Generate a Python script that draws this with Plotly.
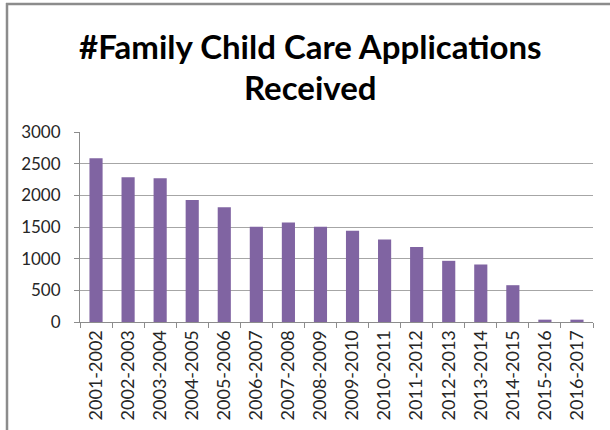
import plotly.graph_objects as go

categories = ["2001-2002", "2002-2003", "2003-2004", "2004-2005", "2005-2006",
              "2006-2007", "2007-2008", "2008-2009", "2009-2010", "2010-2011",
              "2011-2012", "2012-2013", "2013-2014", "2014-2015", "2015-2016",
              "2016-2017"]
applications = [2587, 2286, 2270, 1927, 1811, 1505, 1573, 1505, 1441, 1304,
                1183, 966, 908, 581, 37, 37]
y_ticks = [0, 500, 1000, 1500, 2000, 2500, 3000]
title_lines = ["#Family Child Care Applications", "Received"]

W, H = 610, 430
L, R, T, B = 80, 17, 132, 108
pw, ph = W - L - R, H - T - B

def px(x):
    return (x - L) / pw

def py(y):
    return (H - B - y) / ph

fig = go.Figure()
fig.add_trace(go.Bar(x=categories, y=applications, marker_color="#8064A2",
                     marker_line_width=0, width=0.41))

font_family = "Lato, 'Open Sans', sans-serif"
fig.update_layout(
    width=W, height=H,
    margin=dict(l=L, r=R, t=T, b=B, autoexpand=False),
    paper_bgcolor="white", plot_bgcolor="white",
    showlegend=False,
    xaxis=dict(type="category", showgrid=False, showline=True, linecolor="#8c8c8c",
               linewidth=1, ticks="outside", tickson="boundaries", ticklen=5,
               tickcolor="#8c8c8c", tickangle=-90, automargin=False,
               tickfont=dict(family=font_family, size=18, color="#262626")),
    yaxis=dict(range=[0, 3000], tickvals=y_ticks, showgrid=True, gridcolor="#a6a6a6",
               gridwidth=1, showline=True, linecolor="#8c8c8c", linewidth=1,
               ticks="outside", ticklen=5, tickcolor="#8c8c8c", zeroline=False,
               automargin=False, ticklabelstandoff=10,
               tickfont=dict(family=font_family, size=17, color="#262626")),
)

for text, ypix in zip(title_lines, [46, 87]):
    fig.add_annotation(text="<b>" + text + "</b>", xref="paper", yref="paper",
                       x=px(310), y=py(ypix), xanchor="center", yanchor="middle",
                       showarrow=False,
                       font=dict(family=font_family, size=33, color="#000000"))

# Frame lines (top and left) of the original screenshot
fig.add_shape(type="line", xref="paper", yref="paper",
              x0=px(6), x1=px(610), y0=py(4), y1=py(4),
              line=dict(color="#8c8c8c", width=2.5))
fig.add_shape(type="line", xref="paper", yref="paper",
              x0=px(7), x1=px(7), y0=py(3), y1=py(430),
              line=dict(color="#8c8c8c", width=2.5))

fig.write_html("out.html", config={"displayModeBar": False},
               post_script="document.body.style.margin='0px';"
                           "document.body.style.padding='0px';")
